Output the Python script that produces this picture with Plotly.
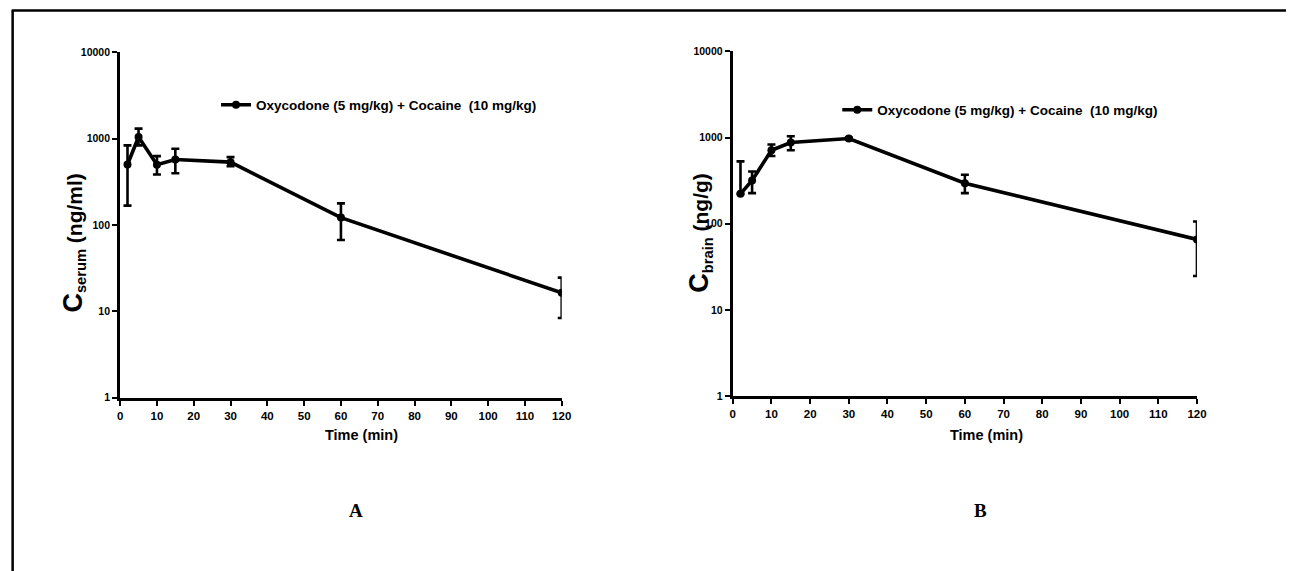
import plotly.graph_objects as go

W, H = 1294, 571

time_min = [2, 5, 10, 15, 30, 60, 120]

serum_mean = [502, 1045, 500, 574, 535, 122, 16.4]
serum_upper = [836, 1307, 628, 765, 611, 178, 24.6]
serum_lower = [168, 836, 385, 398, 480, 67, 8.4]

brain_mean = [222, 318, 711, 875, 973, 295, 65.6]
brain_upper = [529, 404, 828, 1035, 1000, 370, 106]
brain_lower = [222, 226, 610, 711, 950, 226, 24.7]

y_tickvals = [1, 10, 100, 1000, 10000]
y_ticktext = ["1", "10", "100", "1000", "10000"]
x_tickvals = list(range(0, 121, 10))

legend_label = "Oxycodone (5 mg/kg) + Cocaine\u00a0\u00a0(10 mg/kg)"

SANS = "Liberation Sans, Arial, sans-serif"
SERIF = "Liberation Serif, Times New Roman, serif"

# page placement compensation (screen px -> figure px)
SX, SY, OX, OY = 0.988, 0.973, 10.5, 15.0


def fx(p):
    return (p / SX - OX) / W


def fy(p):
    return 1 - (p / SY - OY) / H


fig = go.Figure()


def add_series(mean, upper, lower, xa, ya, leg):
    fig.add_trace(go.Scatter(
        x=time_min, y=mean, mode="lines+markers",
        name=legend_label, legend=leg,
        xaxis=xa, yaxis=ya,
        line=dict(color="black", width=3.6),
        marker=dict(color="black", size=8, symbol="circle"),
        error_y=dict(type="data", symmetric=False,
                     array=[u - m for u, m in zip(upper, mean)],
                     arrayminus=[m - l for m, l in zip(mean, lower)],
                     color="black", thickness=2.6, width=4),
        showlegend=True,
    ))


add_series(serum_mean, serum_upper, serum_lower, "x", "y", "legend")
add_series(brain_mean, brain_upper, brain_lower, "x2", "y2", "legend2")

xcommon = dict(range=[0, 120], tickvals=x_tickvals, showline=True, linecolor="black",
               linewidth=3, ticks="outside", ticklen=5, tickwidth=2, tickcolor="black",
               showgrid=False, zeroline=False,
               tickfont=dict(family=SANS, size=11.5, color="black", weight="bold"))
ycommon = dict(type="log", range=[0, 4], tickvals=y_tickvals, ticktext=y_ticktext,
               showline=True, linecolor="black", linewidth=3, ticks="outside",
               ticklen=5, tickwidth=2, tickcolor="black", showgrid=False, zeroline=False,
               tickfont=dict(family=SANS, size=10.5, color="black", weight="bold"))

fig.update_layout(
    width=W, height=H,
    margin=dict(l=0, r=0, t=0, b=0),
    paper_bgcolor="white", plot_bgcolor="white",
    xaxis=dict(domain=[fx(119.3), fx(560)], anchor="y", **xcommon),
    yaxis=dict(domain=[fy(396), fy(52.7)], anchor="x", **ycommon),
    xaxis2=dict(domain=[fx(730.7), fx(1194)], anchor="y2", **xcommon),
    yaxis2=dict(domain=[fy(394.3), fy(51.7)], anchor="x2", **ycommon),
    legend=dict(x=fx(215), y=fy(105), xanchor="left", yanchor="middle",
                bgcolor="rgba(0,0,0,0)", itemwidth=30,
                font=dict(family=SANS, size=13.5, color="black", weight="bold")),
    legend2=dict(x=fx(835), y=fy(110), xanchor="left", yanchor="middle",
                 bgcolor="rgba(0,0,0,0)", itemwidth=30,
                 font=dict(family=SANS, size=13.5, color="black", weight="bold")),
    showlegend=True,
)

annotations = [
    dict(x=fx(73), y=fy(242),
         text="<b><span style='font-size:27px'>C</span><sub>serum</sub> (ng/ml)</b>",
         textangle=-90, font=dict(family=SANS, size=21, color="black")),
    dict(x=fx(698), y=fy(232),
         text="<b><span style='font-size:27px'>C</span><sub>brain</sub> (ng/g)</b>",
         textangle=-90, font=dict(family=SANS, size=21, color="black")),
    dict(x=fx(360), y=fy(433), text="<b>Time (min)</b>",
         font=dict(family=SANS, size=14.5, color="black")),
    dict(x=fx(984), y=fy(433), text="<b>Time (min)</b>",
         font=dict(family=SANS, size=14.5, color="black")),
    dict(x=fx(355), y=fy(508), text="<b>A</b>",
         font=dict(family=SERIF, size=19, color="black")),
    dict(x=fx(978), y=fy(508), text="<b>B</b>",
         font=dict(family=SERIF, size=19, color="black")),
]
for a in annotations:
    a.update(xref="paper", yref="paper", showarrow=False, xanchor="center", yanchor="middle")
fig.update_layout(annotations=annotations)

fig.add_shape(type="line", xref="paper", yref="paper",
              x0=fx(12), x1=fx(12), y0=fy(11), y1=0,
              line=dict(color="black", width=2.5))
fig.add_shape(type="line", xref="paper", yref="paper",
              x0=fx(11), x1=1, y0=fy(11), y1=fy(11),
              line=dict(color="black", width=2.5))

fig.write_html("out.html")
